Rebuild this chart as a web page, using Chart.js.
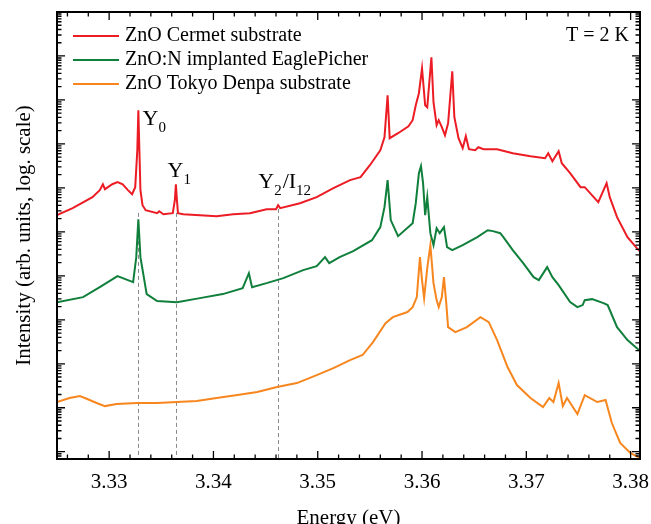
<!DOCTYPE html>
<html>
<head>
<meta charset="utf-8">
<script src="https://cdn.jsdelivr.net/npm/chart.js@4.4.1/dist/chart.umd.min.js"></script>
<style>
  html, body { margin: 0; padding: 0; background: #fff; }
  #wrap { width: 651px; height: 524px; }
</style>
</head>
<body>
<div id="wrap"><canvas id="pl"></canvas></div>
<script>
const seriesNames = ['ZnO Cermet substrate', 'ZnO:N implanted EaglePicher', 'ZnO Tokyo Denpa substrate'];
const seriesColors = ['#ec1c24', '#0f7f3b', '#f7861f'];

// ZnO Cermet substrate (red)
const cermetE = [3.3250, 3.3265, 3.3284, 3.3291, 3.3294, 3.3296, 3.3303, 3.3308, 3.3313, 3.3318, 3.3322, 3.3325,
  3.3327, 3.3328, 3.3329, 3.3330, 3.3332, 3.3335, 3.3346, 3.3348, 3.3352, 3.3361, 3.3363, 3.3364, 3.3365, 3.3366,
  3.3371, 3.3387, 3.3403, 3.3419, 3.3435, 3.3451, 3.3460, 3.3462, 3.3464, 3.3483, 3.3499, 3.3515, 3.3531, 3.3541,
  3.3550, 3.3560, 3.3564, 3.3567, 3.3569, 3.3577, 3.3587, 3.3591, 3.3594, 3.3597, 3.3600, 3.3603, 3.3605, 3.3609,
  3.3611, 3.3614, 3.3616, 3.3619, 3.3622, 3.3625, 3.3629, 3.3631, 3.3635, 3.3639, 3.3642, 3.3645, 3.3651, 3.3654,
  3.3659, 3.3672, 3.3687, 3.3704, 3.3718, 3.3721, 3.3725, 3.3731, 3.3734, 3.3742, 3.3752, 3.3756, 3.3769, 3.3777,
  3.3780, 3.3787, 3.3797, 3.3806, 3.3809];
const cermetI = [2.40e5, 3.46e5, 6.15e5, 8.87e5, 1.21e6, 9.34e5, 1.21e6, 1.35e6, 1.21e6, 8.87e5, 7.19e5, 1.04e6,
  7.19e6, 5.83e7, 7.19e6, 8.87e5, 4.04e5, 3.11e5, 2.66e5, 2.95e5, 2.52e5, 2.66e5, 5.25e5, 1.21e6, 5.25e5, 2.66e5,
  2.52e5, 2.40e5, 2.27e5, 2.52e5, 2.66e5, 3.28e5, 3.28e5, 4.04e5, 3.46e5, 4.49e5, 6.15e5, 9.84e5, 1.50e6, 1.75e6,
  3.28e6, 7.19e6, 1.42e7, 1.28e8, 1.35e7, 1.75e7, 2.52e7, 3.46e7, 7.59e7, 1.42e8, 5.25e8, 7.59e7, 6.82e7, 9.34e8,
  8.87e7, 2.66e7, 3.46e7, 2.40e7, 1.58e7, 2.95e7, 4.49e8, 4.04e7, 1.35e7, 7.98e6, 1.50e7, 7.59e6, 7.19e6, 8.41e6,
  7.59e6, 7.59e6, 6.15e6, 5.25e6, 4.73e6, 6.15e6, 4.04e6, 6.82e6, 3.64e6, 2.16e6, 1.04e6, 1.04e6, 4.73e5, 1.28e6,
  6.15e5, 2.16e5, 7.59e4, 4.27e4, 3.64e4];

// ZnO:N implanted EaglePicher (green)
const eagleE = [3.3250, 3.3275, 3.3291, 3.3308, 3.3318, 3.3323, 3.3326, 3.3328, 3.3330, 3.3336, 3.3346, 3.3365,
  3.3387, 3.3409, 3.3428, 3.3434, 3.3437, 3.3451, 3.3467, 3.3486, 3.3499, 3.3507, 3.3511, 3.3521, 3.3534, 3.3552,
  3.3560, 3.3564, 3.3567, 3.3570, 3.3577, 3.3591, 3.3594, 3.3597, 3.3599, 3.3601, 3.3603, 3.3605, 3.3608, 3.3611,
  3.3614, 3.3617, 3.3621, 3.3624, 3.3629, 3.3639, 3.3653, 3.3663, 3.3668, 3.3675, 3.3678, 3.3687, 3.3697, 3.3707,
  3.3712, 3.3720, 3.3725, 3.3731, 3.3742, 3.3749, 3.3754, 3.3756, 3.3763, 3.3774, 3.3778, 3.3787, 3.3797, 3.3806,
  3.3809];
const eagleI = [2.52e3, 3.28e3, 5.53e3, 9.84e3, 7.98e3, 7.19e3, 2.66e4, 1.94e5, 2.66e4, 3.84e3, 2.66e3, 2.52e3,
  3.11e3, 3.84e3, 5.25e3, 1.15e4, 5.53e3, 6.82e3, 8.87e3, 1.35e4, 1.66e4, 2.66e4, 1.94e4, 2.66e4, 3.64e4, 6.47e4,
  1.28e5, 3.64e5, 1.50e6, 1.85e5, 7.98e4, 1.58e5, 4.49e5, 2.16e6, 3.11e6, 1.28e6, 2.40e5, 6.15e5, 9.34e4, 4.99e4,
  1.21e5, 9.34e4, 1.28e5, 4.49e4, 3.84e4, 4.99e4, 7.59e4, 1.09e5, 1.04e5, 9.34e4, 7.59e4, 3.84e4, 1.94e4, 9.34e3,
  7.98e3, 1.58e4, 9.34e3, 6.15e3, 2.52e3, 1.94e3, 2.16e3, 2.80e3, 2.95e3, 2.40e3, 2.16e3, 6.82e2, 3.46e2, 2.27e2,
  1.94e2];

// ZnO Tokyo Denpa substrate (orange)
const denpaE = [3.3250, 3.3262, 3.3272, 3.3279, 3.3288, 3.3296, 3.3307, 3.3327, 3.3346, 3.3365, 3.3384, 3.3403,
  3.3423, 3.3442, 3.3461, 3.3480, 3.3499, 3.3515, 3.3531, 3.3543, 3.3553, 3.3565, 3.3572, 3.3586, 3.3591, 3.3595,
  3.3598, 3.3600, 3.3602, 3.3605, 3.3608, 3.3611, 3.3614, 3.3616, 3.3619, 3.3621, 3.3623, 3.3625, 3.3632, 3.3643,
  3.3656, 3.3664, 3.3672, 3.3682, 3.3691, 3.3704, 3.3716, 3.3722, 3.3726, 3.3731, 3.3735, 3.3739, 3.3749, 3.3756,
  3.3768, 3.3776, 3.3782, 3.3790, 3.3800, 3.3807, 3.3809];
const denpaI = [13.5, 16.6, 18.4, 15.8, 12.8, 10.9, 12.1, 12.8, 12.8, 13.5, 14.2, 16.6,
  19.4, 22.7, 29.5, 36.4, 55.3, 79.8, 121, 158, 311, 841, 1150, 1500, 1940, 3280,
  2.66e4, 7980, 3110, 1.50e4, 4.99e4, 6820, 2800, 1940, 3280, 9340, 2800, 682, 525, 682,
  1150, 887, 346, 84.1, 32.8, 16.6, 10.4, 16.6, 13.5, 36.4, 10.9, 16.6, 7.19, 19.4,
  13.5, 15.0, 4.49, 1.58, 0.93, 0.76, 0.72];

const xTicks = [3.33, 3.34, 3.35, 3.36, 3.37, 3.38];

// marked lines Y0, Y1, Y2/I12
const markE = [3.3328, 3.3364, 3.3462];
const markTop = [2.7e5, 2.7e5, 3.3e5];

const fontFamily = "'Liberation Serif', 'Times New Roman', serif";

function toPoints(es, is) {
  return es.map((e, i) => ({ x: e, y: is[i] }));
}

const decor = {
  id: 'decor',
  beforeDatasetsDraw(chart) {
    const { ctx, chartArea: a, scales: { x, y } } = chart;
    ctx.save();
    ctx.strokeStyle = '#8a8a8a';
    ctx.lineWidth = 1;
    ctx.setLineDash([4, 3]);
    markE.forEach((e, i) => {
      const px = Math.round(x.getPixelForValue(e)) + 0.5;
      ctx.beginPath();
      ctx.moveTo(px, y.getPixelForValue(markTop[i]));
      ctx.lineTo(px, a.bottom);
      ctx.stroke();
    });
    ctx.restore();
  },
  afterDatasetsDraw(chart) {
    const { ctx, chartArea: a, scales: { x, y } } = chart;
    ctx.save();

    // frame + inward ticks on all four sides
    ctx.strokeStyle = '#000';
    ctx.lineWidth = 2;
    ctx.strokeRect(a.left, a.top, a.right - a.left, a.bottom - a.top);
    ctx.lineWidth = 1.3;
    ctx.beginPath();
    for (let k = Math.ceil(x.min / 0.002); k <= Math.floor(x.max / 0.002 + 1e-6); k++) {
      const px = x.getPixelForValue(k * 0.002);
      const len = k % 5 === 0 ? 8 : 4.5;
      ctx.moveTo(px, a.bottom); ctx.lineTo(px, a.bottom - len);
      ctx.moveTo(px, a.top); ctx.lineTo(px, a.top + len);
    }
    for (let n = -1; n <= 10; n++) {
      for (let m = 1; m <= 9; m++) {
        const v = m * Math.pow(10, n);
        if (v < y.min || v > y.max) continue;
        const py = y.getPixelForValue(v);
        const len = m === 1 ? 8 : 4.5;
        ctx.moveTo(a.left, py); ctx.lineTo(a.left + len, py);
        ctx.moveTo(a.right, py); ctx.lineTo(a.right - len, py);
      }
    }
    ctx.stroke();

    // legend
    ctx.textBaseline = 'middle';
    ctx.font = '20px ' + fontFamily;
    ctx.fillStyle = '#000';
    chart.data.datasets.forEach((ds, i) => {
      const ly = a.top + 24 + 24 * i;
      ctx.strokeStyle = ds.borderColor;
      ctx.lineWidth = 2;
      ctx.beginPath();
      ctx.moveTo(a.left + 16, ly);
      ctx.lineTo(a.left + 62, ly);
      ctx.stroke();
      ctx.fillText(ds.label, a.left + 68, ly);
    });
    ctx.textAlign = 'right';
    ctx.fillText('T = 2 K', a.right - 11, a.top + 24);

    // peak labels with subscripts
    ctx.textAlign = 'left';
    ctx.textBaseline = 'alphabetic';
    const labels = [
      { e: 3.3332, v: 2.66e7, parts: [['Y', 0], ['0', 1]] },
      { e: 3.3356, v: 1.73e6, parts: [['Y', 0], ['1', 1]] },
      { e: 3.3443, v: 9.84e5, parts: [['Y', 0], ['2', 1], ['/I', 0], ['12', 1]] }
    ];
    labels.forEach(l => {
      let cx = x.getPixelForValue(l.e);
      const by = y.getPixelForValue(l.v);
      l.parts.forEach(([t, sub]) => {
        ctx.font = (sub ? '15px ' : '22px ') + fontFamily;
        ctx.fillText(t, cx, sub ? by + 7 : by);
        cx += ctx.measureText(t).width + (sub ? 1 : 0);
      });
    });
    ctx.restore();
  }
};

new Chart(document.getElementById('pl'), {
  type: 'line',
  data: {
    datasets: [
      { label: seriesNames[0], data: toPoints(cermetE, cermetI), borderColor: seriesColors[0] },
      { label: seriesNames[1], data: toPoints(eagleE, eagleI), borderColor: seriesColors[1] },
      { label: seriesNames[2], data: toPoints(denpaE, denpaI), borderColor: seriesColors[2] }
    ]
  },
  options: {
    responsive: true,
    maintainAspectRatio: false,
    animation: false,
    events: [],
    layout: { padding: { top: 12, right: 11, left: 0, bottom: 0 } },
    elements: {
      line: { borderWidth: 2, tension: 0, fill: false },
      point: { radius: 0 }
    },
    plugins: {
      legend: { display: false },
      tooltip: { enabled: false }
    },
    scales: {
      x: {
        type: 'linear',
        min: 3.325,
        max: 3.3809,
        afterBuildTicks: s => { s.ticks = xTicks.map(v => ({ value: v })); },
        afterFit: s => { s.height = 65; s.paddingLeft = 0; s.paddingRight = 0; },
        ticks: {
          color: '#000',
          font: { family: fontFamily, size: 21 },
          padding: 11,
          maxRotation: 0,
          autoSkip: false,
          callback: v => v.toFixed(2)
        },
        grid: { display: false, drawTicks: false },
        border: { display: false },
        title: {
          display: true,
          text: 'Energy (eV)',
          color: '#000',
          font: { family: fontFamily, size: 21 },
          padding: { top: 0, bottom: -7 }
        }
      },
      y: {
        type: 'logarithmic',
        min: 0.683,
        max: 1e10,
        afterFit: s => { s.width = 57; },
        ticks: { display: false },
        grid: { display: false, drawTicks: false },
        border: { display: false },
        title: {
          display: true,
          text: 'Intensity (arb. units, log. scale)',
          color: '#000',
          font: { family: fontFamily, size: 21 },
          padding: { top: 12, bottom: 0 }
        }
      }
    }
  },
  plugins: [decor]
});
</script>
</body>
</html>
